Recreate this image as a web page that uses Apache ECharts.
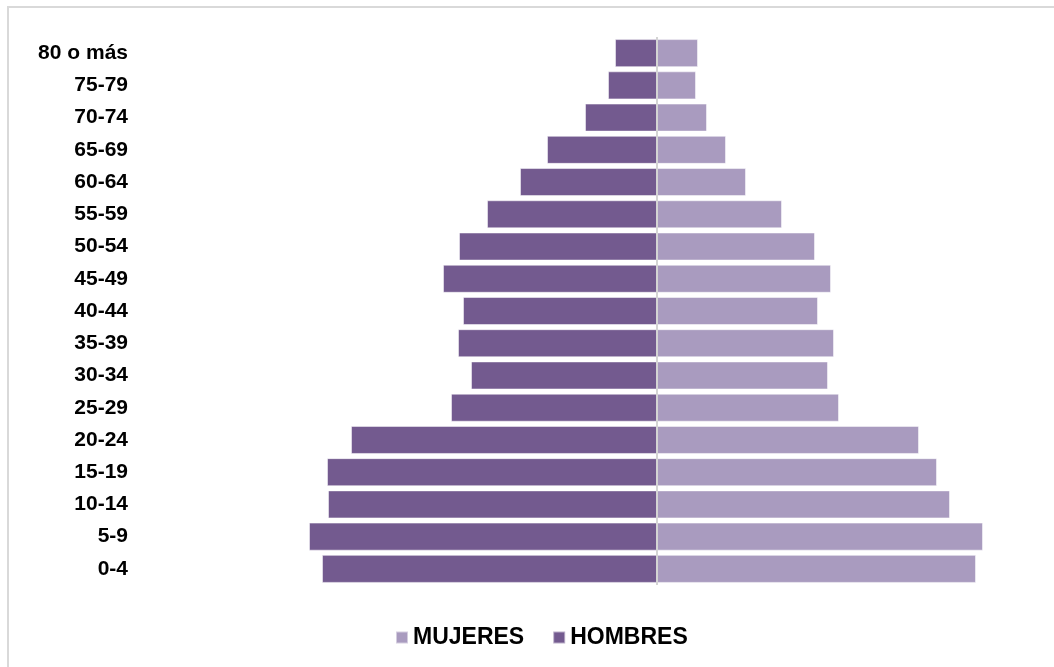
<!DOCTYPE html>
<html>
	<head>
		<meta charset="UTF-8">
		<title>Pirámide de población</title>
		<script src="https://cdn.jsdelivr.net/npm/echarts@6/dist/echarts.min.js"></script>
		<style type="text/css">
			html, body {
				margin: 0;
				padding: 0;
				background: #fff;
			}
			#chart {
				width: 1054px;
				height: 667px;
			}
		</style>
	</head>
	<body>
		<div id="chart"></div>
		<script type="text/javascript">
			// grupos de edad, de abajo hacia arriba
			var edades = ['0-4', '5-9', '10-14', '15-19', '20-24', '25-29', '30-34', '35-39', '40-44',
				'45-49', '50-54', '55-59', '60-64', '65-69', '70-74', '75-79', '80 o más'];
			var hombres = [335, 348, 329, 330, 306, 206, 186, 199, 194, 214, 198, 170, 137, 110, 72, 49, 42];
			var mujeres = [319, 326, 293, 280, 262, 182, 171, 177, 161, 174, 158, 125, 89, 69, 50, 39, 41];

			var chart = echarts.init(document.getElementById('chart'));
			var fuente = 'Liberation Sans, Arial, sans-serif';

			var option = {
				animation: false,
				graphic: [{
					type: 'rect',
					shape: { x: 8, y: 7, width: 1060, height: 700 },
					style: { fill: 'none', stroke: '#d9d9d9', lineWidth: 2 },
					silent: true
				}],
				grid: { left: 237, top: 37, width: 800, height: 548 },
				legend: {
					data: ['MUJERES', 'HOMBRES'],
					left: 390,
					top: 621,
					icon: 'rect',
					itemWidth: 12,
					itemHeight: 12,
					itemGap: 28,
					textStyle: { fontFamily: fuente, fontSize: 23, fontWeight: 'bold', color: '#000' }
				},
				xAxis: {
					type: 'value',
					min: -420,
					max: 380,
					show: false
				},
				yAxis: {
					type: 'category',
					data: edades,
					axisLine: { show: false },
					axisTick: { show: false },
					axisLabel: {
						margin: 109,
						fontFamily: fuente,
						fontSize: 21,
						fontWeight: 'bold',
						color: '#000'
					}
				},
				series: [{
					name: 'HOMBRES',
					type: 'bar',
					data: hombres.map(function(v) { return -v; }),
					barGap: '-100%',
					barCategoryGap: '13%',
					itemStyle: { color: '#735a8f', borderColor: 'rgba(255,255,255,0.5)', borderWidth: 1 },
					markLine: {
						silent: true,
						symbol: 'none',
						label: { show: false },
						lineStyle: { color: '#d4d4d4', width: 2, type: 'solid' },
						data: [{ xAxis: 0 }]
					}
				}, {
					name: 'MUJERES',
					type: 'bar',
					data: mujeres,
					barGap: '-100%',
					barCategoryGap: '13%',
					itemStyle: { color: '#a99bbf', borderColor: 'rgba(255,255,255,0.5)', borderWidth: 1 }
				}]
			};
			chart.setOption(option);
		</script>
	</body>
</html>
